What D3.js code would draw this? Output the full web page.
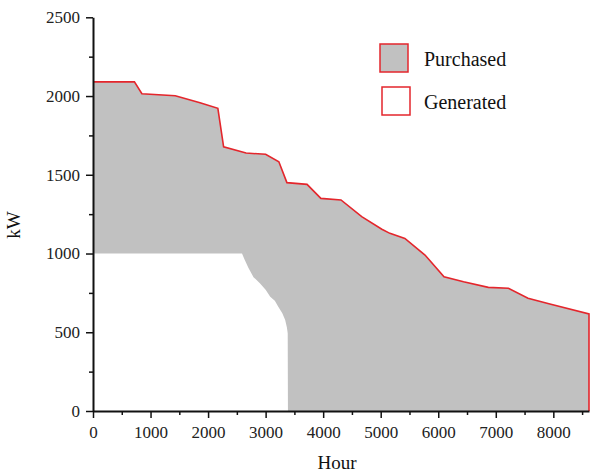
<!DOCTYPE html>
<html>
<head>
<meta charset="utf-8">
<title>Purchased vs generated load</title>
<style>
  body { margin: 0; background: #fff; }
  svg { display: block; font-family: "Liberation Serif", serif; }
  .axis path, .axis line { stroke: #111; }
  .axis text { fill: #222; }
</style>
</head>
<body>
<div id="chart"></div>
<script src="https://cdn.jsdelivr.net/npm/d3@7"></script>
<script>
// total load duration curve (kW) -- top edge of the grey area
var hours = [0, 720, 850, 1430, 1860, 2170, 2270, 2660, 3000, 3230, 3370, 3720, 3960, 4310,
             4670, 5020, 5160, 5420, 5770, 6100, 6440, 6870, 7220, 7560, 7940, 8620];
var totalKW = [2090, 2090, 2015, 2002, 1958, 1922, 1678, 1638, 1630, 1583, 1450, 1439, 1350, 1340,
               1234, 1154, 1128, 1096, 990, 853, 821, 785, 779, 716, 679, 616];

// generated part (white area under the grey)
var genHours = [0, 2590, 2630, 2700, 2790, 2900, 3000, 3080, 3160, 3220, 3290, 3340, 3370, 3384, 3388, 8620];
var genKW = [1000, 1000, 965, 910, 850, 811, 770, 726, 700, 662, 620, 578, 530, 493, 0, 0];

var xTicks = [0, 1000, 2000, 3000, 4000, 5000, 6000, 7000, 8000];
var xMinor = [500, 1500, 2500, 3500, 4500, 5500, 6500, 7500, 8500];
var yTicks = [0, 500, 1000, 1500, 2000, 2500];
var yMinor = [250, 750, 1250, 1750, 2250];

var legendItems = ["Purchased", "Generated"];

var width = 590, height = 474;
var grey = "#c1c1c1", red = "#e4262c";

var svg = d3.select("#chart").append("svg")
  .attr("width", width)
  .attr("height", height);

var x = d3.scaleLinear().domain([0, 8620]).range([93, 589]);
var y = d3.scaleLinear().domain([0, 2500]).range([411, 17.3]);

var total = hours.map(function(h, i) { return [h, totalKW[i]]; });
var gen = genHours.map(function(h, i) { return [h, genKW[i]]; });

var area = d3.area()
  .x(function(d) { return x(d[0]); })
  .y0(y(0))
  .y1(function(d) { return y(d[1]); });

svg.append("path")
  .attr("d", area(total))
  .attr("fill", grey);

svg.append("path")
  .attr("d", area(gen))
  .attr("fill", "#fff");

// red outline on top of purchased area, closing down the right edge
var outline = total.concat([[hours[hours.length - 1], 0]]);
svg.append("path")
  .attr("d", d3.line().x(function(d) { return x(d[0]); }).y(function(d) { return y(d[1]); })(outline))
  .attr("fill", "none")
  .attr("stroke", red)
  .attr("stroke-width", 1.6);

function styleAxis(g) {
  g.attr("font-family", null).attr("font-size", null);
  g.selectAll("text")
    .style("font-family", "Liberation Serif")
    .style("font-size", "17px");
  g.selectAll("line").attr("stroke-width", 1.5);
  g.select(".domain").attr("stroke-width", 2);
}

// axes
svg.append("g")
  .attr("class", "axis")
  .attr("transform", "translate(0," + y(0) + ")")
  .call(d3.axisBottom(x).tickValues(xMinor).tickSize(4).tickSizeOuter(0).tickFormat(""))
  .call(function(g) { g.selectAll("line").attr("stroke-width", 1.5); g.select(".domain").remove(); });

svg.append("g")
  .attr("class", "axis")
  .attr("transform", "translate(0," + y(0) + ")")
  .call(d3.axisBottom(x).tickValues(xTicks).tickSize(7).tickSizeOuter(0).tickPadding(8).tickFormat(d3.format("d")))
  .call(styleAxis);

svg.append("g")
  .attr("class", "axis")
  .attr("transform", "translate(" + x(0) + ",0)")
  .call(d3.axisLeft(y).tickValues(yMinor).tickSize(4).tickSizeOuter(0).tickFormat(""))
  .call(function(g) { g.selectAll("line").attr("stroke-width", 1.5); g.select(".domain").remove(); });

svg.append("g")
  .attr("class", "axis")
  .attr("transform", "translate(" + x(0) + ",0)")
  .call(d3.axisLeft(y).tickValues(yTicks).tickSize(7).tickSizeOuter(0).tickPadding(6).tickFormat(d3.format("d")))
  .call(styleAxis);

// axis titles
svg.append("text")
  .attr("x", 337).attr("y", 469)
  .attr("text-anchor", "middle")
  .attr("font-size", 19)
  .attr("fill", "#111")
  .text("Hour");

svg.append("text")
  .attr("transform", "translate(20,225) rotate(-90)")
  .attr("text-anchor", "middle")
  .attr("font-size", 19)
  .attr("fill", "#111")
  .text("kW");

// legend
var legend = svg.append("g").attr("transform", "translate(380,44)");
legendItems.forEach(function(name, i) {
  var row = legend.append("g").attr("transform", "translate(" + (i * 2) + "," + (i * 43) + ")");
  row.append("rect")
    .attr("width", 28).attr("height", 28)
    .attr("fill", i === 0 ? grey : "#fff")
    .attr("stroke", red)
    .attr("stroke-width", 1.5);
  row.append("text")
    .attr("x", 44 - i * 2).attr("y", 22)
    .attr("font-size", 20)
    .attr("fill", "#111")
    .text(name);
});
</script>
</body>
</html>
